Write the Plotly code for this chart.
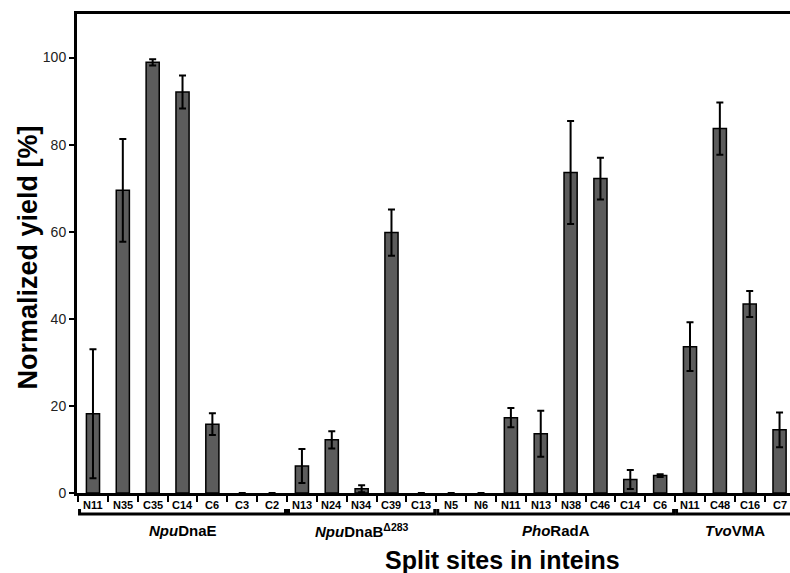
import plotly.graph_objects as go

sites = ["N11", "N35", "C35", "C14", "C6", "C3", "C2",
         "N13", "N24", "N34", "C39", "C13",
         "N5", "N6", "N11", "N13", "N38", "C46", "C14", "C6",
         "N11", "C48", "C16", "C7"]
yields = [18.2, 69.5, 98.9, 92.1, 15.8, 0, 0,
          6.2, 12.2, 1.0, 59.8, 0,
          0, 0, 17.3, 13.6, 73.6, 72.2, 3.1, 4.0,
          33.6, 83.7, 43.4, 14.5]
errors = [14.8, 11.8, 0.7, 3.8, 2.5, None, None,
          3.9, 2.0, 0.8, 5.3, None,
          None, None, 2.2, 5.3, 11.8, 4.8, 2.2, 0.3,
          5.6, 6.0, 3.0, 4.0]
group_names = ["<b><i>Npu</i>DnaE</b>", "<b><i>Npu</i>DnaB<sup>\u0394283</sup></b>",
               "<b><i>Pho</i>RadA</b>", "<b><i>Tvo</i>VMA</b>"]
group_sizes = [7, 5, 8, 4]
y_ticks = [0, 20, 40, 60, 80, 100]

W, H = 790, 573
ML, MR, MT, MB = 77, 0, 14, 80
ph = H - MT - MB
pw = W - ML - MR

def ypaper(px):
    return (H - MB - px) / ph

def xpaper(px):
    return (px - ML) / pw

xs = list(range(len(sites)))
bounds = [i - 0.5 for i in range(len(sites) + 1)]
FONT = "Liberation Sans, Arial, sans-serif"
XR = [-0.535, 23.35]

fig = go.Figure()
fig.add_trace(go.Bar(
    x=xs, y=yields, width=0.44,
    marker=dict(color="#5c5c5c",
                line=dict(color="black", width=[1.5 if v > 0 else 0 for v in yields])),
    error_y=dict(type="data", array=errors, visible=True,
                 color="black", thickness=2, width=3.5),
    showlegend=False, hoverinfo="skip",
))

shapes = []
annotations = []
# category labels
for xi, s in zip(xs, sites):
    annotations.append(dict(x=xi, xref="x", y=ypaper(505), yref="paper",
                            text=f"<b>{s}</b>", showarrow=False,
                            yanchor="middle", xanchor="center",
                            font=dict(family=FONT, size=11, color="black")))
start = 0
gap = 0.05
for name, n in zip(group_names, group_sizes):
    a = start - 0.5 + gap
    b = start + n - 0.5 - gap
    yl = ypaper(514)
    yu = ypaper(509)
    shapes.append(dict(type="path", xref="x", yref="paper",
                       path=f"M {a},{yu} L {a},{yl} L {b},{yl} L {b},{yu}",
                       line=dict(color="black", width=3)))
    annotations.append(dict(x=start + (n - 1) / 2, xref="x",
                            y=ypaper(530), yref="paper",
                            text=name, showarrow=False, yanchor="middle",
                            font=dict(family=FONT, size=15, color="black")))
    start += n

annotations.append(dict(x=xpaper(502), xref="paper",
                        y=ypaper(560), yref="paper",
                        text="<b>Split sites in inteins</b>", showarrow=False,
                        yanchor="middle",
                        font=dict(family=FONT, size=25, color="black")))
annotations.append(dict(x=xpaper(27.5), xref="paper",
                        y=ypaper(258), yref="paper",
                        text="<b>Normalized yield [%]</b>", showarrow=False,
                        textangle=-90, xanchor="center", yanchor="middle",
                        font=dict(family=FONT, size=27, color="black")))

fig.update_layout(
    width=W, height=H,
    margin=dict(l=ML, r=MR, t=MT, b=MB),
    plot_bgcolor="white", paper_bgcolor="white",
    font=dict(family=FONT, color="black"),
    shapes=shapes, annotations=annotations,
    xaxis=dict(
        range=XR,
        tickmode="array", tickvals=bounds,
        showticklabels=False,
        ticks="outside", ticklen=6, tickwidth=2, tickcolor="black",
        showline=True, linecolor="black", linewidth=3, mirror=True,
        showgrid=False, zeroline=False,
    ),
    yaxis=dict(
        range=[0, 110],
        tickmode="array", tickvals=y_ticks,
        tickfont=dict(family=FONT, size=14, color="#222"),
        ticks="outside", ticklen=5, tickwidth=2, tickcolor="black",
        showline=True, linecolor="black", linewidth=3,
        showgrid=False, zeroline=False,
    ),
)

fig.write_html(
    "out.html",
    config={"displayModeBar": False},
    post_script="document.body.style.margin='0';document.body.style.overflow='hidden';",
)
